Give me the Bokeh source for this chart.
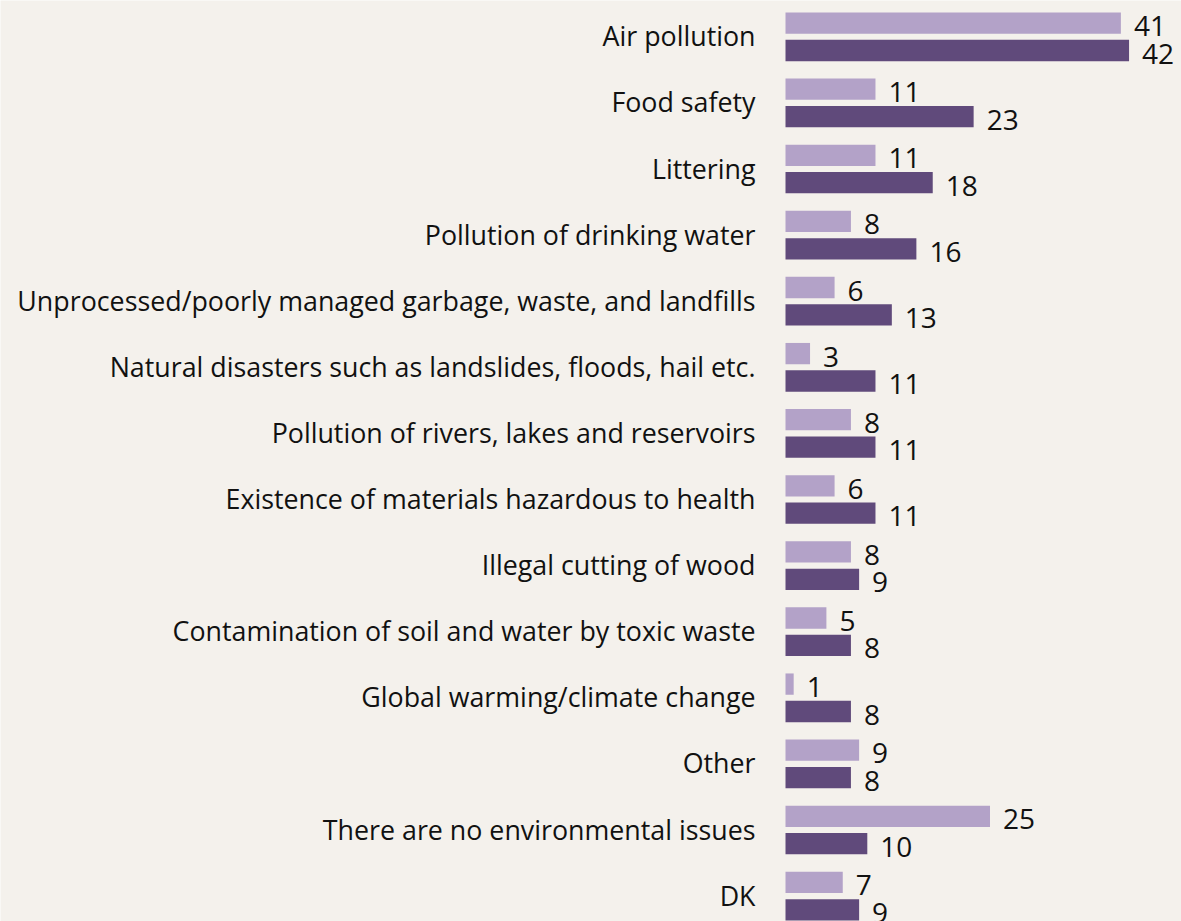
from bokeh.plotting import figure
from bokeh.models import ColumnDataSource, Range1d
from bokeh.core.properties import value
from bokeh.embed import file_html
from bokeh.resources import INLINE

categories = [
    "Air pollution",
    "Food safety",
    "Littering",
    "Pollution of drinking water",
    "Unprocessed/poorly managed garbage, waste, and landfills",
    "Natural disasters such as landslides, floods, hail etc.",
    "Pollution of rivers, lakes and reservoirs",
    "Existence of materials hazardous to health",
    "Illegal cutting of wood",
    "Contamination of soil and water by toxic waste",
    "Global warming/climate change",
    "Other",
    "There are no environmental issues",
    "DK",
]
series_light = [41, 11, 11, 8, 6, 3, 8, 6, 8, 5, 1, 9, 25, 7]
series_dark = [42, 23, 18, 16, 13, 11, 11, 11, 9, 8, 8, 8, 10, 9]

LIGHT = "#b3a2c8"
DARK = "#604a7b"
BG = "#f4f1ec"
FONT = "Open Sans"

W, H = 1181, 921
x0_px = 785.0
px_per_unit = 8.18
pitch = 66.1
first_c = 36.3

pos = list(range(len(categories)))
off = 13.7 / pitch
bh = 21.3 / pitch

src = ColumnDataSource(dict(
    cat=categories,
    pos=pos,
    y_light=[p - off for p in pos],
    y_dark=[p + off for p in pos],
    light=series_light,
    dark=series_dark,
    light_lbl=[str(v) for v in series_light],
    dark_lbl=[str(v) for v in series_dark],
))

p = figure(width=W, height=H, output_backend="svg", toolbar_location=None,
           x_range=Range1d(-x0_px / px_per_unit, (W - x0_px) / px_per_unit),
           y_range=Range1d((H - first_c) / pitch, -first_c / pitch),
           min_border=0, min_border_left=0, min_border_right=0,
           min_border_top=0, min_border_bottom=0)
p.axis.visible = False
p.grid.visible = False
p.outline_line_color = None
p.background_fill_color = BG
p.border_fill_color = BG

p.hbar(y="y_light", left=0, right="light", height=bh, source=src,
       fill_color=LIGHT, line_color=None)
p.hbar(y="y_dark", left=0, right="dark", height=bh, source=src,
       fill_color=DARK, line_color=None)

p.text(x=0, y="pos", text="cat", source=src, x_offset=-30, y_offset=-1,
       text_align="right", text_baseline="middle",
       text_font=value(FONT), text_font_size="26.8px", text_color="#111111")

p.text(x="light", y="y_light", text="light_lbl", source=src, x_offset=13, y_offset=3,
       text_align="left", text_baseline="middle",
       text_font=value(FONT), text_font_size="28px", text_color="#111111")
p.text(x="dark", y="y_dark", text="dark_lbl", source=src, x_offset=13, y_offset=3,
       text_align="left", text_baseline="middle",
       text_font=value(FONT), text_font_size="28px", text_color="#111111")

open("out.html", "w").write(file_html(p, INLINE))
